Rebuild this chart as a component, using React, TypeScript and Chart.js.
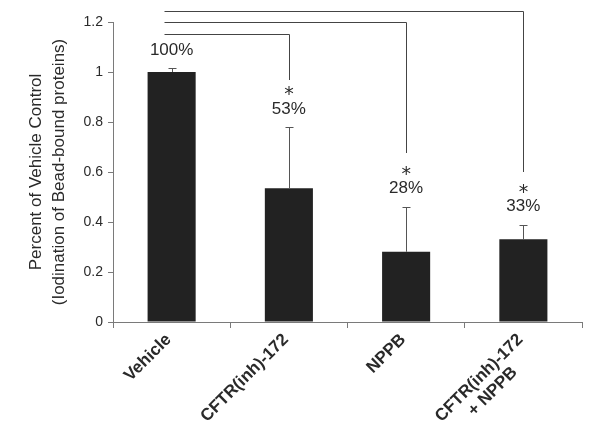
import React, { useEffect, useRef } from "react";
import { Chart, registerables } from "chart.js";

Chart.register(...registerables);

// ---- data ----
const categories: string[][] = [
  ["Vehicle"],
  ["CFTR(inh)-172"],
  ["NPPB"],
  ["CFTR(inh)-172", "+ NPPB"],
];
const values = [1.0, 0.535, 0.281, 0.331];
const errors = [0.016, 0.244, 0.18, 0.058];
const pctLabels = ["100%", "53%", "28%", "33%"];
const significant = [false, true, true, true];
// comparison brackets from Vehicle to each treatment
const bracketTargets = [1, 2, 3];
const bracketLevels = [1.152, 1.2, 1.245];
const bracketDropEnds = [0.968, 0.676, 0.6];
const bracketStart = -0.065;
const yTitle = ["Percent of Vehicle Control", "(Iodination of Bead-bound proteins)"];
const yMin = 0;
const yMax = 1.2;
const yStep = 0.2;

const FONT = "'Liberation Sans', Arial, sans-serif";
const TEXT = "#2a2a2a";
const AXIS = "#7a7a7a";

const overlayPlugin = {
  id: "overlay",
  afterDatasetsDraw(chart: any) {
    const ctx = chart.ctx as CanvasRenderingContext2D;
    const xs = chart.scales.x;
    const ys = chart.scales.y;
    ctx.save();

    // error bars
    ctx.strokeStyle = "#555";
    ctx.lineWidth = 1;
    values.forEach((v, i) => {
      const x = Math.round(xs.getPixelForValue(i)) + 0.5;
      const y0 = ys.getPixelForValue(v);
      const y1 = Math.round(ys.getPixelForValue(v + errors[i])) + 0.5;
      ctx.beginPath();
      ctx.moveTo(x, y0);
      ctx.lineTo(x, y1);
      ctx.moveTo(x - 4, y1);
      ctx.lineTo(x + 4, y1);
      ctx.stroke();
    });

    // percent labels and asterisks
    ctx.fillStyle = TEXT;
    ctx.textAlign = "center";
    ctx.textBaseline = "middle";
    values.forEach((v, i) => {
      const x = xs.getPixelForValue(i);
      const yTop = ys.getPixelForValue(v + errors[i]);
      ctx.font = `17px ${FONT}`;
      ctx.fillText(pctLabels[i], x, yTop - 18);
      if (significant[i]) {
        ctx.font = `19px 'DejaVu Sans', sans-serif`;
        ctx.fillText("*", x, yTop - 32);
      }
    });

    // brackets
    ctx.strokeStyle = "#444";
    ctx.lineWidth = 1;
    const xStart = Math.round(xs.getPixelForValue(bracketStart)) + 0.5;
    bracketTargets.forEach((t, k) => {
      const xt = Math.round(xs.getPixelForValue(t)) + 0.5;
      const yl = Math.round(ys.getPixelForValue(bracketLevels[k])) + 0.5;
      const yd = ys.getPixelForValue(bracketDropEnds[k]);
      ctx.beginPath();
      ctx.moveTo(xStart, yl);
      ctx.lineTo(xt, yl);
      ctx.lineTo(xt, yd);
      ctx.stroke();
    });

    // x category labels (rotated, bold)
    ctx.fillStyle = TEXT;
    ctx.font = `bold 17px ${FONT}`;
    ctx.textBaseline = "top";
    categories.forEach((lines, i) => {
      const x = xs.getPixelForValue(i);
      const y = xs.top + 9;
      ctx.save();
      ctx.translate(x - 9, y);
      ctx.rotate(-Math.PI / 4);
      const w0 = ctx.measureText(lines[0]).width;
      lines.forEach((ln, j) => {
        if (j === 0) {
          ctx.textAlign = "right";
          ctx.fillText(ln, 0, 0);
        } else {
          ctx.textAlign = "center";
          ctx.fillText(ln, -w0 / 2, j * 19);
        }
      });
      ctx.restore();
    });

    ctx.restore();
  },
};

export default function App() {
  const ref = useRef<HTMLCanvasElement | null>(null);
  useEffect(() => {
    if (!ref.current) return;
    const chart = new Chart(ref.current, {
      type: "bar",
      data: {
        labels: categories.map((c) => c.join(" ")),
        datasets: [
          {
            data: values,
            backgroundColor: "#222222",
            borderWidth: 0,
            categoryPercentage: 1,
            barPercentage: 0.41,
          },
        ],
      },
      options: {
        responsive: false,
        animation: false,
        layout: { padding: { top: 22, right: 19, left: 0, bottom: 0 } },
        plugins: {
          legend: { display: false },
          tooltip: { enabled: false },
        },
        scales: {
          x: {
            offset: true,
            grid: {
              offset: true,
              drawOnChartArea: false,
              drawTicks: true,
              tickLength: 6,
              color: AXIS,
            },
            border: { display: true, color: AXIS, width: 1 },
            ticks: { display: false },
            afterFit: (s: any) => {
              s.height = 115;
            },
          },
          y: {
            min: yMin,
            max: yMax,
            ticks: {
              stepSize: yStep,
              font: { family: FONT, size: 14 },
              color: TEXT,
              padding: 5,
              callback: (v: any) => String(Number(Number(v).toFixed(1))),
            },
            grid: {
              drawOnChartArea: false,
              drawTicks: true,
              tickLength: 5,
              color: AXIS,
            },
            border: { display: true, color: AXIS, width: 1 },
            title: {
              display: true,
              text: yTitle,
              font: { family: FONT, size: 17, lineHeight: 1.35 },
              color: TEXT,
              padding: { top: 25, bottom: 0 },
            },
            afterFit: (s: any) => {
              s.width = 113;
            },
          },
        },
      },
      plugins: [overlayPlugin],
    });
    return () => chart.destroy();
  }, []);
  return (
    <div style={{ position: "absolute", left: 0, top: 0, width: 601, height: 437, background: "#fff" }}>
      <canvas ref={ref} width={601} height={437} style={{ display: "block" }} />
    </div>
  );
}
